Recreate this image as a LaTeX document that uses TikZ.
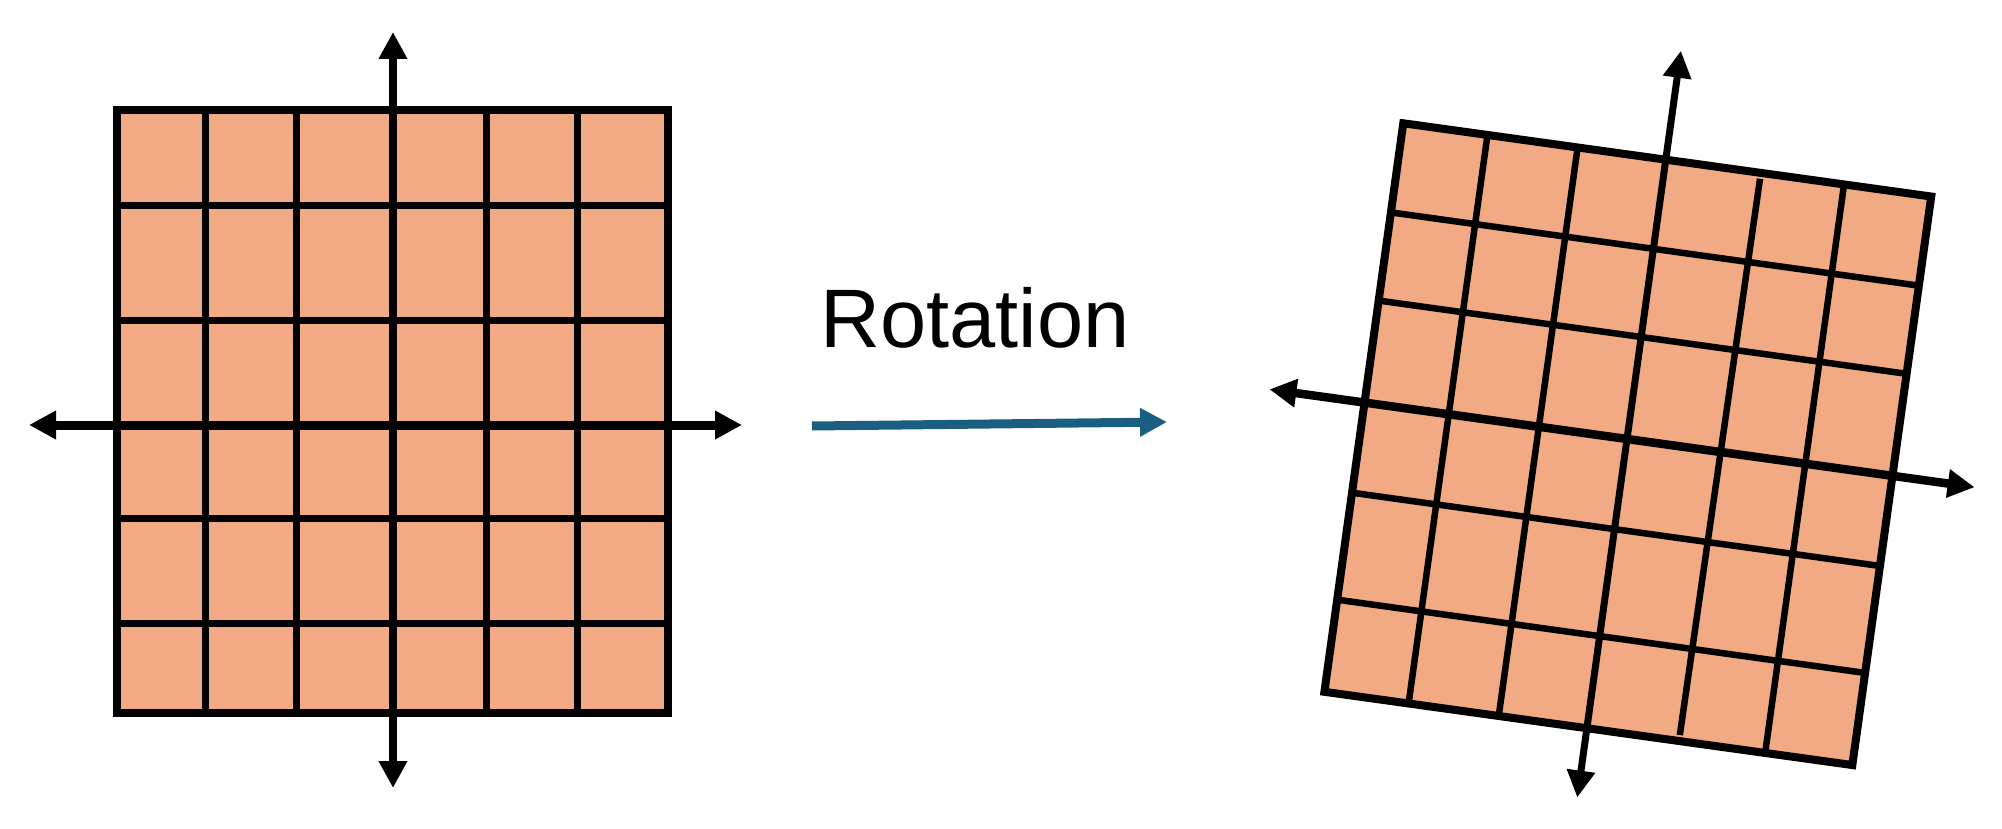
\documentclass[tikz,border=0pt]{standalone}
\usepackage{fontspec}
\setmainfont{Liberation Sans}
\usetikzlibrary{arrows.meta}
\definecolor{tilefill}{HTML}{F2AA84}
\definecolor{arrowblue}{HTML}{1A5F82}
\begin{document}
\begin{tikzpicture}[x=1pt,y=-1pt,
  gridline/.style={line width=7pt},
  rgridline/.style={line width=6.5pt},
  border/.style={line width=8pt},
  axisline/.style={line width=8pt,{Triangle[length=27pt,width=27pt]}-{Triangle[length=27pt,width=27pt]}},
  label/.style={font=\fontsize{83}{99}\selectfont, anchor=base, inner sep=0pt}]
\useasboundingbox (0,0) rectangle (2002,829);
% ---------- left grid ----------
\fill[tilefill] (117,110) rectangle (668,713);
\foreach \x in {205,296,486,577} \draw[gridline] (\x,110) -- (\x,713);
\foreach \y in {206,320,518,623} \draw[gridline] (117,\y) -- (668,\y);
\draw[border] (117,110) rectangle (668,713);
\coordinate (Ltop) at (393,32);
\coordinate (Lbot) at (393,788);
\coordinate (Lleft) at (29,425);
\coordinate (Lright) at (742,425);
\draw[axisline] (Lbot) -- (Ltop);
\draw[axisline, line width=9pt] (Lleft) -- (Lright);
% ---------- rotation arrow ----------
\node[label] (rot) at (975,347) {Rotation};
\coordinate (A1) at (812,426);
\coordinate (A2) at (1167,422);
\draw[line width=9pt, arrowblue, -{Triangle[length=27pt,width=27pt]}] (A1) -- (A2);
% ---------- right grid ----------
\begin{scope}[shift={(1627,439)}, rotate=-7.9]
\fill[tilefill] (-265,-282) rectangle (268,292);
\foreach \x in {-180,-89,180} \draw[rgridline] (\x,-282) -- (\x,292);
\draw[rgridline] (96,-276) -- (93,286);
\foreach \y in {-192,-103,91,199} \draw[rgridline] (-265,\y) -- (268,\y);
\draw[border] (-265,-282) rectangle (268,292);
\coordinate (Rtop) at (0,-392);
\coordinate (Rbot) at (0,362);
\coordinate (Rleft) at (-361,0);
\coordinate (Rright) at (351,0);
\draw[axisline, line width=7pt] (Rbot) -- (Rtop);
\draw[axisline, line width=8.5pt] (Rleft) -- (Rright);
\end{scope}
\end{tikzpicture}
\end{document}
